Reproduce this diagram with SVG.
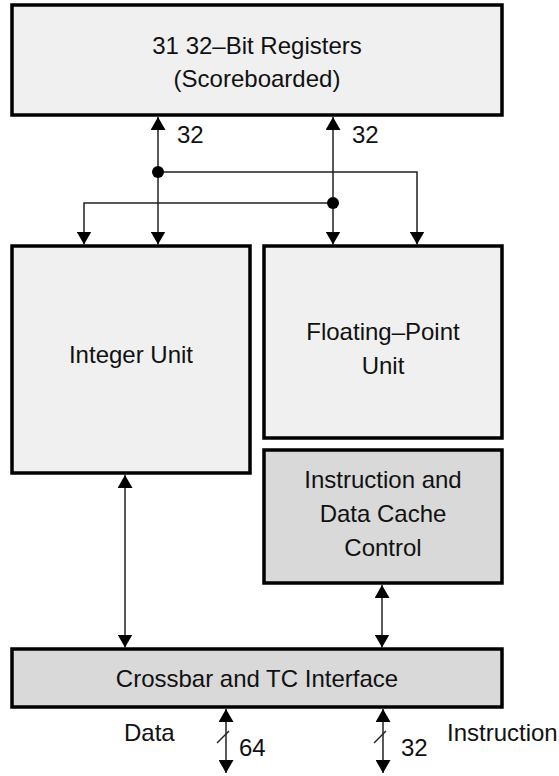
<svg xmlns="http://www.w3.org/2000/svg" width="559" height="776" viewBox="0 0 559 776">
<style>
.box{stroke:#000;stroke-width:3.5}
.light{fill:#f0f0f0}
.dark{fill:#d9d9d9}
.t{font-family:"Liberation Sans",Arial,sans-serif;font-size:24px;fill:#111}
.c{text-anchor:middle}
.w{fill:none;stroke:#222;stroke-width:1.5}
.dot{fill:#000}
</style>
<defs>
<marker id="ah" markerUnits="userSpaceOnUse" viewBox="0 0 13 15" refX="13" refY="7.5" markerWidth="13" markerHeight="15" orient="auto-start-reverse">
<path d="M0,0 L13,7.5 L0,15 z" fill="#000"/>
</marker>
</defs>
<rect width="559" height="776" fill="#fff"/>
<g id="registers">
<rect class="box light" x="12" y="5" width="490" height="110"/>
<text class="t c" x="257" y="54">31 32–Bit Registers</text>
<text class="t c" x="257" y="87">(Scoreboarded)</text>
</g>
<g id="integer-unit">
<rect class="box light" x="12" y="246" width="238" height="227"/>
<text class="t c" x="131" y="363">Integer Unit</text>
</g>
<g id="fp-unit">
<rect class="box light" x="264" y="246" width="238" height="192"/>
<text class="t c" x="383" y="340">Floating–Point</text>
<text class="t c" x="383" y="374">Unit</text>
</g>
<g id="cache-control">
<rect class="box dark" x="264" y="450" width="238" height="133"/>
<text class="t c" x="383" y="488">Instruction and</text>
<text class="t c" x="383" y="522">Data Cache</text>
<text class="t c" x="383" y="556">Control</text>
</g>
<g id="crossbar">
<rect class="box dark" x="12" y="649" width="490" height="58"/>
<text class="t c" x="257" y="687">Crossbar and TC Interface</text>
</g>
<g id="connectors">
<line class="w" x1="158" y1="117" x2="158" y2="244.5" marker-start="url(#ah)" marker-end="url(#ah)"/>
<line class="w" x1="333" y1="117" x2="333" y2="244.5" marker-start="url(#ah)" marker-end="url(#ah)"/>
<polyline class="w" points="158,172 417,172 417,244.5" marker-end="url(#ah)"/>
<polyline class="w" points="333,203 84,203 84,244.5" marker-end="url(#ah)"/>
<circle class="dot" cx="158" cy="172" r="6"/>
<circle class="dot" cx="333" cy="203" r="6"/>
<text class="t" x="177" y="143">32</text>
<text class="t" x="352" y="143">32</text>
<line class="w" x1="125" y1="475" x2="125" y2="647.5" marker-start="url(#ah)" marker-end="url(#ah)"/>
<line class="w" x1="382" y1="585" x2="382" y2="647.5" marker-start="url(#ah)" marker-end="url(#ah)"/>
<line class="w" x1="226" y1="709" x2="226" y2="773" marker-start="url(#ah)" marker-end="url(#ah)"/>
<line class="w" x1="383" y1="709" x2="383" y2="773" marker-start="url(#ah)" marker-end="url(#ah)"/>
<line class="w" x1="217" y1="743" x2="229" y2="731"/>
<line class="w" x1="374" y1="743" x2="386" y2="731"/>
<text class="t" x="124" y="741">Data</text>
<text class="t" x="239" y="756">64</text>
<text class="t" x="401" y="756">32</text>
<text class="t" x="447" y="741">Instruction</text>
</g>
</svg>
